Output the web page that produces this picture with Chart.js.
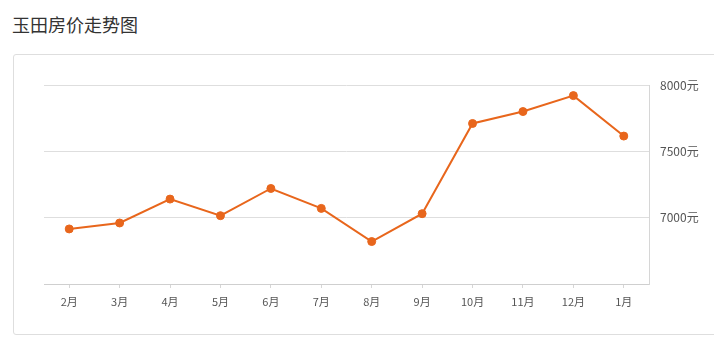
<!DOCTYPE html>
<html>
<head>
<meta charset="utf-8">
<script src="https://cdn.jsdelivr.net/npm/chart.js@4/dist/chart.umd.min.js"></script>
<style>
  html, body { margin: 0; padding: 0; background: #fff; }
  body { width: 714px; height: 342px; position: relative; overflow: hidden; font-family: "Noto Sans CJK SC", sans-serif; }
  .title { position: absolute; left: 12px; top: 12px; font-size: 18px; color: #333; line-height: 24px; }
  .card { position: absolute; left: 13px; top: 54px; width: 720px; height: 281px; border: 1px solid #dedede; border-radius: 3px; box-sizing: border-box; }
  #wrap { position: absolute; left: 0; top: 0; width: 714px; height: 342px; }
</style>
</head>
<body>
<div class="title">玉田房价走势图</div>
<div class="card"></div>
<div id="wrap"><canvas id="priceChart"></canvas></div>
<script>
const months = ['2月', '3月', '4月', '5月', '6月', '7月', '8月', '9月', '10月', '11月', '12月', '1月'];
const prices = [6915, 6960, 7140, 7015, 7220, 7070, 6820, 7030, 7710, 7800, 7920, 7615];
const yMin = 6500;
const yMax = 8000;
const yStep = 500;

const lineColor = '#e8661c';

new Chart(document.getElementById('priceChart').getContext('2d'), {
    type: 'line',
    data: {
        labels: months,
        datasets: [{
            data: prices,
            borderColor: lineColor,
            backgroundColor: lineColor,
            borderWidth: 2,
            pointRadius: 4,
            pointBackgroundColor: lineColor,
            pointBorderColor: lineColor,
            pointBorderWidth: 1,
            tension: 0,
            fill: false
        }]
    },
    options: {
        responsive: true,
        maintainAspectRatio: false,
        animation: false,
        layout: { padding: { left: 44, top: 85, right: 0, bottom: 0 } },
        plugins: { legend: { display: false }, tooltip: { enabled: false } },
        scales: {
            x: {
                offset: true,
                grid: { offset: false, drawOnChartArea: false, drawTicks: true, tickLength: 4, color: '#d6d6d6' },
                border: { display: true, color: '#cfcfcf', width: 1 },
                ticks: { color: '#555', padding: 7, font: { size: 11, family: '"Noto Sans CJK SC", sans-serif' }, maxRotation: 0, autoSkip: false },
                afterFit: (scale) => { scale.height = 58; }
            },
            y: {
                position: 'right',
                min: yMin,
                max: yMax,
                grid: { color: (ctx) => ctx.tick && ctx.tick.value === yMin ? 'rgba(0,0,0,0)' : '#dedede', drawTicks: false },
                border: { display: true, color: '#d6d6d6', width: 1 },
                ticks: {
                    stepSize: yStep,
                    padding: 11,
                    color: '#555',
                    font: { size: 12, family: '"Noto Sans CJK SC", sans-serif' },
                    callback: (v) => v === yMin ? '' : v + '元'
                },
                afterFit: (scale) => { scale.width = 65; }
            }
        }
    }
});
</script>
</body>
</html>
